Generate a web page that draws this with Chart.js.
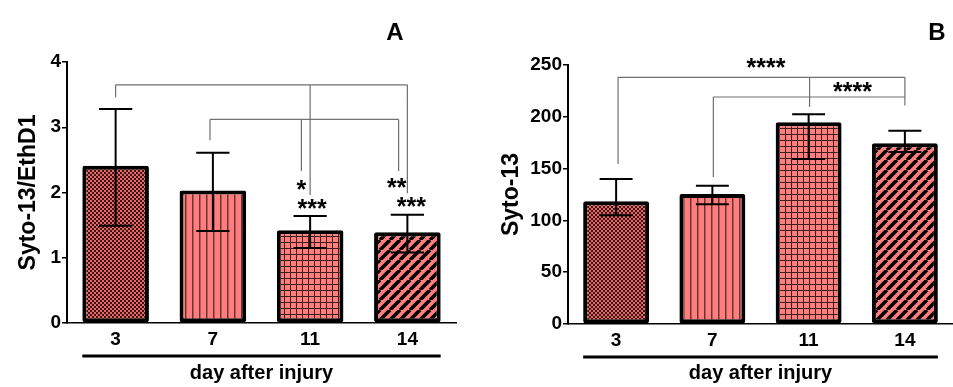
<!DOCTYPE html>
<html><head><meta charset="utf-8">
<script src="https://cdn.jsdelivr.net/npm/chart.js@4.4.0/dist/chart.umd.min.js"></script>
<style>
html,body{margin:0;padding:0;background:#fff;width:953px;height:387px;overflow:hidden}
#a{position:absolute;left:0;top:0}
#b{position:absolute;left:477px;top:0}
</style></head><body>
<canvas id="a" width="477" height="387"></canvas>
<canvas id="b" width="476" height="387"></canvas>
<script>
// ---------- data ----------
const categories = ['3', '7', '11', '14'];
const xAxisTitle = 'day after injury';

const ratioTitle = 'Syto-13/EthD1';
const ratioMeans = [2.41, 2.03, 1.42, 1.39];
const ratioUpper = [3.28, 2.61, 1.64, 1.66];
const ratioLower = [1.49, 1.41, 1.15, 1.08];
const ratioTicks = [0, 1, 2, 3, 4];

const sytoTitle = 'Syto-13';
const sytoMeans = [118.5, 125.5, 194.7, 174.4];
const sytoUpper = [140, 133.5, 202.4, 186.6];
const sytoLower = [105, 115.5, 159.3, 166];
const sytoTicks = [0, 50, 100, 150, 200, 250];

// significance brackets: level and legs [category position, leg end value]
const ratioBrackets = [
  { y: 3.65, legs: [[0, 3.46], [2, 1.96], [3, 1.99]] },
  { y: 3.12, legs: [[0.97, 2.80], [1.91, 2.33], [2.91, 2.33]] }
];
const ratioStars = [
  { text: '*', x: 1.91, y: 2.11 },
  { text: '***', x: 2.02, y: 1.82 },
  { text: '**', x: 2.89, y: 2.15 },
  { text: '***', x: 3.04, y: 1.85 }
];
const sytoBrackets = [
  { y: 238.1, legs: [[0.02, 154.4], [2.01, 209.5], [3.0, 219.1]] },
  { y: 219.1, legs: [[1.01, 141.9], [3.0, 211]] }
];
const sytoStars = [
  { text: '****', x: 1.557, y: 252 },
  { text: '****', x: 2.455, y: 228.3 }
];

// ---------- patterns ----------
const SALMON = '#ff7d7d';
function tile(w, h, draw) {
  const c = document.createElement('canvas');
  c.width = w; c.height = h;
  const g = c.getContext('2d');
  draw(g, w, h);
  return document.createElement('canvas').getContext('2d').createPattern(c, 'repeat');
}
const patChecker = tile(4, 4, (g) => {
  g.fillStyle = '#e86565'; g.fillRect(0, 0, 4, 4);
  g.fillStyle = '#3a1616'; g.fillRect(0, 0, 2, 2); g.fillRect(2, 2, 2, 2);
});
const patVertical = tile(7, 7, (g) => {
  g.fillStyle = SALMON; g.fillRect(0, 0, 7, 7);
  g.fillStyle = '#6b3434'; g.fillRect(3, 0, 1.5, 7);
});
const patGrid = tile(6, 6, (g) => {
  g.fillStyle = SALMON; g.fillRect(0, 0, 6, 6);
  g.fillStyle = '#3e1d1d'; g.fillRect(2, 0, 1, 6); g.fillRect(0, 2, 6, 1);
});
const patDiag = tile(10, 10, (g) => {
  g.fillStyle = SALMON; g.fillRect(0, 0, 10, 10);
  g.strokeStyle = '#000'; g.lineWidth = 3.6;
  g.beginPath();
  for (let k = -10; k <= 20; k += 10) { g.moveTo(k, 10); g.lineTo(k + 10, 0); }
  g.stroke();
});
const barFills = [patChecker, patVertical, patGrid, patDiag];

// ---------- chart ----------
Chart.defaults.font.family = '"Liberation Sans", Arial, Helvetica, sans-serif';
Chart.defaults.color = '#000';

function extrasPlugin(cfg) {
  return {
    id: 'extras',
    afterDatasetsDraw(chart) {
      const ctx = chart.ctx;
      const xs = chart.scales.x, ys = chart.scales.y;
      const p0 = xs.getPixelForValue(0), step = xs.getPixelForValue(1) - p0;
      const X = v => p0 + v * step;
      const meta = chart.getDatasetMeta(0);
      ctx.save();
      // brackets
      ctx.strokeStyle = '#707070'; ctx.lineWidth = 1.2;
      cfg.brackets.forEach(b => {
        const y = ys.getPixelForValue(b.y);
        const px = b.legs.map(l => X(l[0]));
        ctx.beginPath();
        ctx.moveTo(Math.min(...px), y); ctx.lineTo(Math.max(...px), y);
        b.legs.forEach(l => { ctx.moveTo(X(l[0]), y); ctx.lineTo(X(l[0]), ys.getPixelForValue(l[1])); });
        ctx.stroke();
      });
      // error bars
      ctx.strokeStyle = '#000'; ctx.lineWidth = 2;
      meta.data.forEach((bar, i) => {
        const cx = bar.x, half = bar.width * 0.25;
        const yu = ys.getPixelForValue(cfg.upper[i]);
        const yl = ys.getPixelForValue(cfg.lower[i]);
        ctx.beginPath();
        ctx.moveTo(cx, yu); ctx.lineTo(cx, yl);
        ctx.moveTo(cx - half, yu); ctx.lineTo(cx + half, yu);
        ctx.moveTo(cx - half, yl); ctx.lineTo(cx + half, yl);
        ctx.stroke();
      });
      // stars
      ctx.fillStyle = '#000';
      ctx.font = 'bold 25px "Liberation Sans", Arial, sans-serif';
      ctx.textAlign = 'center'; ctx.textBaseline = 'alphabetic';
      cfg.stars.forEach(s => {
        const m = ctx.measureText(s.text);
        const cy = ys.getPixelForValue(s.y);
        ctx.fillText(s.text, X(s.x), cy + (m.actualBoundingBoxAscent - m.actualBoundingBoxDescent) / 2);
      });
      // underline for the x axis groups
      const first = meta.data[0], last = meta.data[meta.data.length - 1];
      const lx0 = first.x - first.width / 2, lx1 = last.x + last.width / 2;
      ctx.fillRect(lx0, chart.chartArea.bottom + 31.5, lx1 - lx0, 3);
      // panel letter
      ctx.font = 'bold 24px "Liberation Sans", Arial, sans-serif';
      ctx.textBaseline = 'middle';
      ctx.fillText(cfg.letter, chart.chartArea.right - cfg.letterDx, 33);
      ctx.restore();
    }
  };
}

function makeChart(id, o) {
  return new Chart(document.getElementById(id), {
    type: 'bar',
    data: {
      labels: categories,
      datasets: [{
        data: o.means,
        backgroundColor: barFills,
        borderColor: '#000',
        borderWidth: 4,
        borderRadius: 2,
        borderSkipped: false,
        categoryPercentage: 1,
        barPercentage: 0.685
      }]
    },
    options: {
      responsive: false,
      animation: false,
      devicePixelRatio: 1,
      layout: { padding: { left: 0, right: o.padRight, top: o.padTop, bottom: 0 } },
      plugins: { legend: { display: false }, tooltip: { enabled: false } },
      scales: {
        x: {
          grid: { display: false, drawTicks: false },
          border: { display: true, color: '#000', width: 1.5 },
          ticks: { padding: 5, font: { size: 19, weight: 'bold' }, color: '#000' },
          title: { display: true, text: xAxisTitle, font: { size: 20, weight: 'bold' }, color: '#000', padding: { top: 0, bottom: 2 } },
          afterFit(s) { s.height = o.xHeight; }
        },
        y: {
          min: o.ticks[0], max: o.ticks[o.ticks.length - 1],
          afterBuildTicks(s) { s.ticks = o.ticks.map(v => ({ value: v })); },
          grid: { display: true, drawOnChartArea: false, drawTicks: true, tickLength: 5, color: '#000', lineWidth: 1.5 },
          border: { display: true, color: '#000', width: 2 },
          ticks: { padding: 1, font: { size: 19, weight: 'bold' }, color: '#000' },
          title: { display: true, text: o.title, font: { size: 23, weight: 'bold' }, color: '#000', padding: { top: o.titlePad, bottom: 0 } },
          afterFit(s) { s.width = o.yWidth; }
        }
      }
    },
    plugins: [extrasPlugin(o)]
  });
}

makeChart('a', {
  means: ratioMeans, upper: ratioUpper, lower: ratioLower, ticks: ratioTicks,
  title: ratioTitle, brackets: ratioBrackets, stars: ratioStars, letter: 'A',
  padRight: 21, padTop: 62, xHeight: 64, yWidth: 67, titlePad: 15, letterDx: 61
});
makeChart('b', {
  means: sytoMeans, upper: sytoUpper, lower: sytoLower, ticks: sytoTicks,
  title: sytoTitle, brackets: sytoBrackets, stars: sytoStars, letter: 'B',
  padRight: 0, padTop: 65, xHeight: 63, yWidth: 91, titlePad: 21, letterDx: 16
});
</script>
</body></html>
